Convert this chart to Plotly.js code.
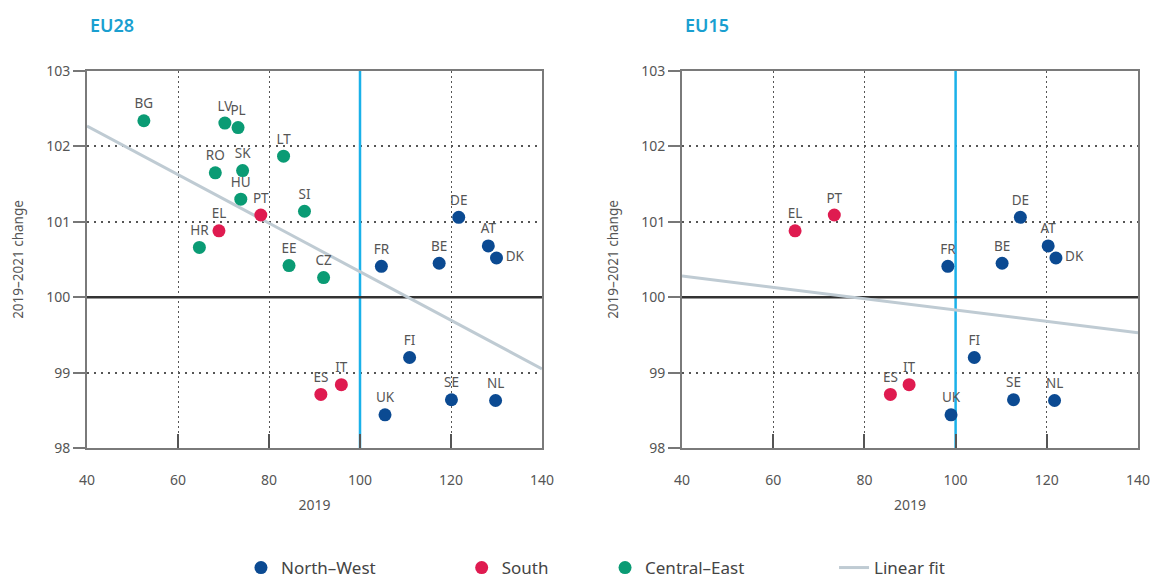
<!DOCTYPE html>
<html><head><meta charset="utf-8">
<script src="https://cdn.plot.ly/plotly-3.0.1.min.js"></script>
<style>html,body{margin:0;padding:0;background:#fff}#chart{width:1153px;height:579px}</style>
</head><body><div id="chart"></div>
<script>
// ---------- EU28 panel ----------
const nw28Codes = ['FR','BE','DE','AT','DK','FI','UK','SE','NL'];
const nw28X = [104.7,117.4,121.7,128.2,130.0,110.9,105.5,120.1,129.8];
const nw28Y = [100.41,100.45,101.06,100.68,100.52,99.20,98.44,98.64,98.63];
const s28Codes = ['PT','EL','ES','IT'];
const s28X = [78.2,69.0,91.4,95.9];
const s28Y = [101.09,100.88,98.71,98.84];
const ce28Codes = ['BG','LV','PL','LT','RO','SK','HU','SI','HR','EE','CZ'];
const ce28X = [52.5,70.3,73.2,83.2,68.2,74.2,73.8,87.8,64.7,84.4,92.0];
const ce28Y = [102.34,102.31,102.25,101.87,101.65,101.68,101.30,101.14,100.66,100.42,100.26];
const fitX = [40,140];
const fit28Y = [102.27,99.05];
// ---------- EU15 panel ----------
const nw15Codes = ['FR','BE','DE','AT','DK','FI','UK','SE','NL'];
const nw15X = [98.3,110.2,114.2,120.3,122.0,104.1,99.0,112.7,121.7];
const nw15Y = [100.41,100.45,101.06,100.68,100.52,99.20,98.44,98.64,98.63];
const s15Codes = ['EL','PT','ES','IT'];
const s15X = [64.8,73.4,85.7,89.8];
const s15Y = [100.88,101.09,98.71,98.84];
const fit15Y = [100.28,99.53];
// axis ranges and reference lines (EU average = 100)
const xRange = [40,140];
const yRange = [98,103];
const refX = [100,100];
const refY = [100,100];
const panelTitles = ['EU28','EU15'];
const seriesNames = ['North–West','South','Central–East','Linear fit'];

const C_NW = '#0b4a92', C_S = '#df1b50', C_CE = '#0a9b74', C_FIT = '#bfcbd3';
const FONT = 'Noto Sans, Open Sans, sans-serif';
const labelFont = {family: FONT, size: 13.5, color: '#555'};

function pos(codes){ return codes.map(c => c === 'DK' ? 'middle right' : 'top center'); }

function pts(x, y, codes, color, name, xa, ya, legend, show){
  return {type:'scatter', mode:'markers+text', x:x, y:y, text:codes, textposition:pos(codes),
    textfont:labelFont, marker:{color:color, size:13}, name:name, xaxis:xa, yaxis:ya,
    legend:legend, showlegend:show, hoverinfo:'x+y+text', cliponaxis:false};
}
function fit(y, xa, ya, show){
  return {type:'scatter', mode:'lines', x:fitX, y:y, line:{color:C_FIT, width:3},
    name:seriesNames[3], xaxis:xa, yaxis:ya, legend:'legend4', showlegend:show, hoverinfo:'skip'};
}
function refLines(xa, ya){
  return [
    {type:'scatter', mode:'lines', x:refX, y:yRange, line:{color:'#1ab1e9', width:2.5},
     xaxis:xa, yaxis:ya, showlegend:false, hoverinfo:'skip', cliponaxis:true},
    {type:'scatter', mode:'lines', x:xRange, y:refY, line:{color:'#333', width:2.5},
     xaxis:xa, yaxis:ya, showlegend:false, hoverinfo:'skip', cliponaxis:true}
  ];
}

const data = [
  ...refLines('x','y'),
  ...refLines('x2','y2'),
  fit(fit28Y,'x','y',true),
  fit(fit15Y,'x2','y2',false),
  pts(nw28X,nw28Y,nw28Codes,C_NW,seriesNames[0],'x','y','legend',true),
  pts(s28X,s28Y,s28Codes,C_S,seriesNames[1],'x','y','legend2',true),
  pts(ce28X,ce28Y,ce28Codes,C_CE,seriesNames[2],'x','y','legend3',true),
  pts(nw15X,nw15Y,nw15Codes,C_NW,seriesNames[0],'x2','y2','legend',false),
  pts(s15X,s15Y,s15Codes,C_S,seriesNames[1],'x2','y2','legend2',false)
];

function xax(domain, anchor){
  return {domain:domain, anchor:anchor, range:xRange, tick0:40, dtick:20,
    showgrid:true, gridcolor:'#555', griddash:'1.5px,3.5px', gridwidth:1.2, zeroline:false,
    ticks:'inside', ticklen:14, tickwidth:2, tickcolor:'#555',
    showline:true, mirror:true, linecolor:'#7a7a7a', linewidth:2,
    tickfont:{family:FONT, size:14, color:'#555'}, ticklabelstandoff:18,
    title:{text:'2019', font:{family:FONT, size:14, color:'#555'}, standoff:12},
    automargin:false, fixedrange:true};
}
function yax(anchor){
  return {domain:[0,1], anchor:anchor, range:yRange, tick0:98, dtick:1,
    showgrid:true, gridcolor:'#555', griddash:'2px,5px', gridwidth:1.5, zeroline:false,
    ticks:'outside', ticklen:12, tickwidth:2, tickcolor:'#777',
    showline:true, mirror:true, linecolor:'#7a7a7a', linewidth:2,
    tickfont:{family:FONT, size:14, color:'#555'},
    title:{text:'2019–2021 change', font:{family:FONT, size:13.5, color:'#555'}, standoff:19},
    automargin:false, fixedrange:true};
}

const legFont = {family:FONT, size:17, color:'#444'};
function leg(x){ return {orientation:'h', x:x, xanchor:'left', y:-0.3183, yanchor:'middle',
  font:legFont, bgcolor:'rgba(0,0,0,0)', borderwidth:0}; }

const layout = {
  width:1153, height:579,
  margin:{l:87, r:15, t:71, b:131, autoexpand:false},
  paper_bgcolor:'#fff', plot_bgcolor:'#fff',
  font:{family:FONT, color:'#555'},
  xaxis: xax([0,0.43292],'y'),
  yaxis: yax('x'),
  xaxis2: xax([0.56613,1],'y2'),
  yaxis2: yax('x2'),
  legend: leg(0.1465),
  legend2: leg(0.3565),
  legend3: leg(0.4929),
  legend4: leg(0.7108),
  annotations: [
    {text:panelTitles[0], xref:'paper', yref:'paper', x:0.001, y:1.1233, xanchor:'left', yanchor:'middle',
     showarrow:false, font:{family:FONT, size:18, color:'#1a9fd0', weight:600}},
    {text:panelTitles[1], xref:'paper', yref:'paper', x:0.5671, y:1.1233, xanchor:'left', yanchor:'middle',
     showarrow:false, font:{family:FONT, size:18, color:'#1a9fd0', weight:600}}
  ],
  hovermode:'closest'
};

Plotly.newPlot('chart', data, layout, {displayModeBar:false});
</script></body></html>
